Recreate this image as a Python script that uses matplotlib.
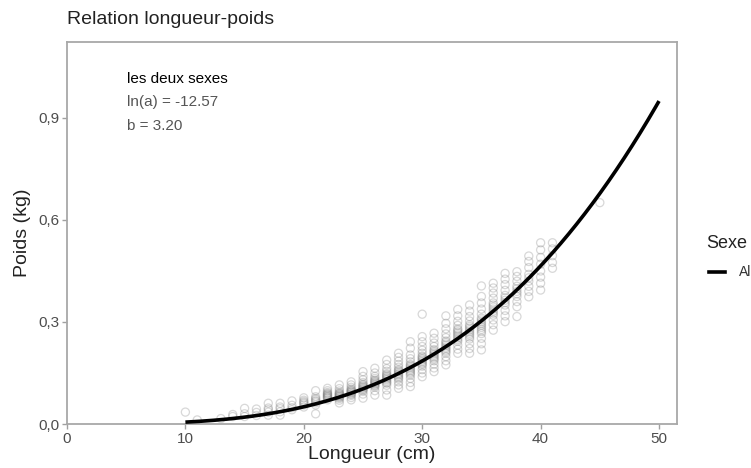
import numpy as np
import matplotlib.pyplot as plt
from matplotlib.lines import Line2D

plt.rcParams['font.family'] = ['Liberation Sans', 'DejaVu Sans']

# fitted length-weight relation (both sexes)
ln_a = -12.57
b = 3.20
curve_start, curve_end = 10, 50

# observed weights (kg) for each length class (cm)
obs = {
    10: [0.035],
    11: [0.012],
    13: [0.016],
    14: [0.022, 0.028],
    15: [0.022, 0.030, 0.046],
    16: [0.025, 0.034, 0.044],
    17: [0.026, 0.035, 0.042, 0.047, 0.061],
    18: [0.026, 0.036, 0.045, 0.050, 0.061],
    19: [0.042, 0.048, 0.055, 0.068],
    20: [0.050, 0.056, 0.060, 0.063, 0.066, 0.070, 0.077],
    21: [0.030, 0.056, 0.062, 0.066, 0.068, 0.072, 0.075, 0.080, 0.098],
    22: [0.071, 0.076, 0.078, 0.080, 0.082, 0.084, 0.086, 0.088, 0.090, 0.093, 0.098, 0.105],
    23: [0.062, 0.070, 0.075, 0.078, 0.080, 0.082, 0.084, 0.086, 0.088, 0.090, 0.092, 0.097, 0.104, 0.115],
    24: [0.071, 0.078, 0.084, 0.087, 0.089, 0.092, 0.094, 0.096, 0.098, 0.100, 0.103, 0.108, 0.115, 0.124],
    25: [0.076, 0.088, 0.096, 0.100, 0.102, 0.105, 0.107, 0.110, 0.112, 0.115, 0.117, 0.122, 0.130, 0.140, 0.154],
    26: [0.085, 0.098, 0.108, 0.112, 0.114, 0.117, 0.119, 0.122, 0.124, 0.127, 0.129, 0.134, 0.140, 0.150, 0.164],
    27: [0.085, 0.100, 0.114, 0.120, 0.122, 0.126, 0.130, 0.133, 0.136, 0.139, 0.142, 0.145, 0.148, 0.155, 0.163, 0.175, 0.188],
    28: [0.105, 0.115, 0.124, 0.132, 0.136, 0.140, 0.144, 0.147, 0.150, 0.154, 0.157, 0.160, 0.167, 0.175, 0.185, 0.196, 0.208],
    29: [0.110, 0.122, 0.134, 0.143, 0.148, 0.152, 0.156, 0.160, 0.164, 0.168, 0.172, 0.175, 0.183, 0.192, 0.203, 0.223, 0.242],
    30: [0.139, 0.150, 0.160, 0.170, 0.175, 0.178, 0.182, 0.186, 0.190, 0.193, 0.197, 0.200, 0.208, 0.217, 0.228, 0.242, 0.257, 0.323],
    31: [0.154, 0.165, 0.176, 0.186, 0.191, 0.195, 0.199, 0.203, 0.207, 0.211, 0.215, 0.219, 0.228, 0.238, 0.252, 0.267],
    32: [0.174, 0.186, 0.198, 0.208, 0.213, 0.217, 0.222, 0.226, 0.231, 0.235, 0.240, 0.244, 0.254, 0.265, 0.280, 0.296, 0.318],
    33: [0.208, 0.220, 0.232, 0.243, 0.248, 0.253, 0.258, 0.262, 0.267, 0.271, 0.276, 0.280, 0.290, 0.302, 0.318, 0.337],
    34: [0.208, 0.222, 0.236, 0.250, 0.256, 0.262, 0.267, 0.272, 0.277, 0.282, 0.287, 0.292, 0.303, 0.316, 0.332, 0.350],
    35: [0.218, 0.236, 0.252, 0.266, 0.272, 0.278, 0.284, 0.290, 0.295, 0.300, 0.306, 0.311, 0.323, 0.338, 0.356, 0.375, 0.406],
    36: [0.276, 0.292, 0.306, 0.320, 0.326, 0.332, 0.338, 0.344, 0.350, 0.356, 0.370, 0.385, 0.400, 0.414],
    37: [0.301, 0.318, 0.334, 0.350, 0.357, 0.364, 0.371, 0.378, 0.393, 0.410, 0.426, 0.443],
    38: [0.316, 0.345, 0.360, 0.375, 0.383, 0.390, 0.398, 0.405, 0.420, 0.434, 0.448],
    39: [0.374, 0.390, 0.405, 0.420, 0.430, 0.440, 0.460, 0.478, 0.494],
    40: [0.394, 0.414, 0.432, 0.450, 0.470, 0.490, 0.512, 0.533],
    41: [0.458, 0.475, 0.495, 0.515, 0.533],
    45: [0.651],
}

x_ticks = [0, 10, 20, 30, 40, 50]
y_ticks = [0.0, 0.3, 0.6, 0.9]
y_tick_labels = ['0,0', '0,3', '0,6', '0,9']

lengths = np.concatenate([[k] * len(v) for k, v in obs.items()])
weights = np.concatenate([v for v in obs.values()])

fig = plt.figure(figsize=(7.51, 4.68), dpi=100)
ax = fig.add_axes([0.0892, 0.094, 0.8123, 0.8163])

ax.scatter(lengths, weights, s=34, facecolors='none', edgecolors='#7f7f7f',
           linewidths=0.9, alpha=0.3, zorder=2)

L = np.linspace(curve_start, curve_end, 300)
ax.plot(L, np.exp(ln_a) * L ** b, color='black', lw=2.6, zorder=3,
        solid_capstyle='butt')

ax.set_xlim(0, 51.52)
ax.set_ylim(0, 1.1235)
ax.set_xticks(x_ticks)
ax.set_yticks(y_ticks)
ax.set_yticklabels(y_tick_labels)
ax.tick_params(colors='#a0a0a0', labelcolor='#4d4d4d', labelsize=11,
               length=3.5, width=1, pad=2)
for sp in ax.spines.values():
    sp.set_color('#a8a8a8')
    sp.set_linewidth(1.3)

ax.set_xlabel('Longueur (cm)', fontsize=14, color='#222222', labelpad=0)
ax.set_ylabel('Poids (kg)', fontsize=14, color='#222222', labelpad=5)

ax.text(5.1, 1.015, 'les deux sexes', fontsize=11, color='black', va='center')
ax.text(5.1, 0.947, 'ln(a) = %.2f' % ln_a, fontsize=11, color='#555555', va='center')
ax.text(5.1, 0.876, 'b = %.2f' % b, fontsize=11, color='#555555', va='center')

fig.text(67 / 751, 1 - 19 / 468, 'Relation longueur-poids', fontsize=14,
         color='#222222', ha='left', va='center')

# legend
fig.text(706 / 751, 1 - 243 / 468, 'Sexe', fontsize=13, color='#222222',
         ha='left', va='center')
fig.add_artist(Line2D([709 / 751, 725 / 751], [1 - 272 / 468] * 2,
                      color='black', lw=2.6, transform=fig.transFigure))
fig.text(739 / 751, 1 - 272 / 468, 'Al', fontsize=10, color='#333333',
         ha='left', va='center')

fig.savefig('out.png', dpi=100)
